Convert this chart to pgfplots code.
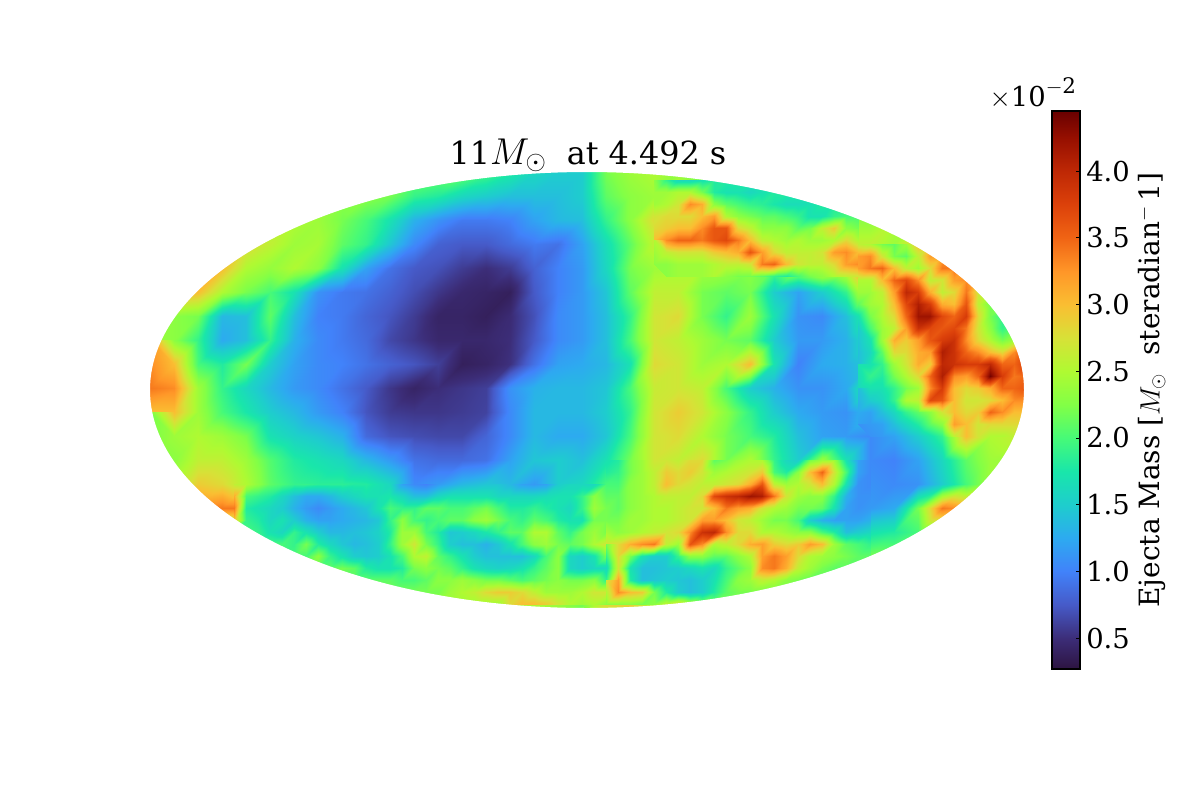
\RequirePackage{fix-cm}
\documentclass[border=0pt]{standalone}
\usepackage{fontspec}
\setmainfont{DejaVu Serif}
\usepackage{pgfplots}
\pgfplotsset{compat=1.18}
\pgfplotsset{colormap={turbomap}{
    rgb255(27pt)=(45,20,65);
    rgb255(50pt)=(60,45,120);
    rgb255(75pt)=(70,90,200);
    rgb255(100pt)=(65,130,250);
    rgb255(125pt)=(45,170,240);
    rgb255(150pt)=(30,205,205);
    rgb255(175pt)=(25,230,170);
    rgb255(200pt)=(70,250,120);
    rgb255(225pt)=(130,255,70);
    rgb255(250pt)=(175,250,50);
    rgb255(275pt)=(215,225,55);
    rgb255(300pt)=(250,190,50);
    rgb255(325pt)=(255,150,40);
    rgb255(350pt)=(240,100,20);
    rgb255(375pt)=(220,65,10);
    rgb255(400pt)=(190,40,5);
    rgb255(425pt)=(150,15,0);
    rgb255(445pt)=(105,0,0)
}}
\begin{document}
\begin{tikzpicture}
\path[use as bounding box] (0,0) rectangle (867.24pt,578.16pt);
\begin{axis}[
  at={(0,0)}, anchor=south west,
  scale only axis, width=867.24pt, height=578.16pt,
  xmin=0, xmax=1200, ymin=0, ymax=800, y dir=reverse,
  hide axis, clip=false,
  colormap name=turbomap,
  point meta min=0.268, point meta max=4.45,
]
% base grid, 24 px step
\addplot[surf, shader=interp, mesh/cols=38, point meta=\thisrowno{0}]
  table[row sep=\\, header=false,
        x expr={150+24*mod(\coordindex,38)},
        y expr={172+24*floor(\coordindex/38)}] {
2.2\\2.2\\2.2\\2.2\\2.2\\2.2\\2.2\\2.2\\2.2\\2.2\\2.2\\2.2\\2.2\\2.2\\2.0\\1.8\\1.6\\1.5\\1.5\\2.2\\2.4\\2.5\\2.3\\2.0\\2.0\\2.0\\2.0\\2.0\\2.0\\2.0\\2.0\\2.0\\2.0\\2.0\\2.0\\2.0\\2.0\\2.0\\
2.3\\2.3\\2.3\\2.3\\2.3\\2.3\\2.3\\2.3\\2.3\\2.3\\2.2\\1.9\\1.8\\1.6\\1.5\\1.4\\1.4\\1.4\\1.5\\2.1\\2.3\\2.4\\2.8\\2.7\\2.0\\1.9\\1.8\\1.8\\1.9\\1.9\\1.9\\1.9\\1.9\\1.9\\1.9\\1.9\\1.9\\1.9\\
2.5\\2.5\\2.5\\2.5\\2.5\\2.5\\2.5\\2.4\\2.2\\2.0\\1.7\\1.3\\1.1\\0.95\\0.95\\1.0\\1.2\\1.35\\1.4\\1.9\\2.3\\2.8\\3.1\\3.4\\2.9\\2.4\\2.2\\2.1\\2.2\\2.3\\2.3\\2.5\\2.5\\2.5\\2.5\\2.5\\2.5\\2.5\\
2.8\\2.8\\2.8\\2.8\\2.8\\2.6\\2.4\\2.45\\2.1\\1.9\\1.45\\1.05\\0.8\\0.75\\0.75\\0.85\\0.95\\0.9\\1.2\\1.65\\2.1\\2.6\\3.1\\3.5\\3.3\\3.5\\2.8\\2.6\\2.7\\2.6\\2.6\\2.4\\2.9\\3.0\\3.0\\3.0\\3.0\\3.0\\
3.1\\3.1\\3.1\\3.0\\2.5\\2.35\\2.5\\2.3\\1.7\\1.2\\0.9\\0.75\\0.7\\0.58\\0.5\\0.58\\0.8\\1.0\\1.15\\1.6\\2.2\\2.4\\2.45\\2.45\\2.4\\2.3\\2.1\\2.5\\2.8\\2.7\\3.7\\3.2\\2.8\\3.3\\3.3\\3.2\\3.2\\3.2\\
3.0\\3.0\\3.0\\2.5\\2.2\\2.0\\1.7\\1.1\\0.95\\0.9\\0.8\\0.68\\0.55\\0.45\\0.42\\0.38\\0.75\\1.0\\1.15\\1.45\\2.1\\2.6\\2.6\\2.2\\2.1\\2.2\\1.5\\1.2\\1.5\\1.9\\2.9\\3.1\\4.1\\3.2\\3.2\\2.5\\2.5\\2.5\\
2.4\\2.3\\2.2\\1.35\\1.4\\2.1\\1.4\\1.0\\0.95\\0.82\\0.72\\0.58\\0.42\\0.42\\0.38\\0.48\\0.7\\1.05\\1.15\\1.4\\1.9\\2.7\\2.8\\2.2\\1.9\\2.4\\1.7\\1.1\\1.05\\1.4\\2.0\\2.5\\3.7\\3.8\\3.7\\2.3\\2.1\\2.1\\
2.4\\2.3\\1.9\\1.25\\1.4\\1.9\\1.3\\1.05\\0.95\\0.85\\0.65\\0.55\\0.45\\0.45\\0.45\\0.5\\0.75\\1.05\\1.15\\1.4\\2.0\\2.7\\2.6\\2.4\\2.2\\2.1\\1.5\\1.15\\1.15\\1.3\\1.7\\2.6\\3.2\\3.6\\3.4\\2.6\\2.3\\2.3\\
3.2\\3.0\\2.0\\1.8\\2.2\\1.5\\1.2\\1.05\\1.0\\0.9\\0.8\\0.72\\0.6\\0.38\\0.42\\0.52\\0.9\\1.2\\1.25\\1.35\\1.7\\2.8\\2.7\\2.4\\2.5\\3.0\\1.7\\1.0\\1.25\\1.3\\1.5\\2.0\\2.9\\3.9\\3.5\\3.9\\3.4\\3.4\\
3.4\\3.3\\2.4\\1.9\\1.6\\1.35\\1.15\\1.05\\0.9\\0.75\\0.55\\0.42\\0.5\\0.55\\0.6\\1.1\\1.3\\1.35\\1.35\\1.45\\2.0\\2.65\\2.7\\2.6\\2.0\\1.5\\1.3\\1.1\\1.1\\1.25\\1.95\\1.7\\2.4\\3.8\\2.9\\3.0\\3.6\\3.6\\
3.0\\3.0\\2.4\\2.0\\1.75\\1.5\\1.35\\1.15\\1.0\\0.72\\0.58\\0.55\\0.55\\0.58\\0.62\\1.05\\1.35\\1.35\\1.35\\1.5\\1.9\\2.7\\2.9\\2.7\\2.3\\1.9\\1.5\\1.25\\1.15\\1.1\\1.4\\1.3\\1.7\\2.3\\2.6\\3.6\\3.0\\3.0\\
2.2\\2.4\\2.5\\2.4\\2.2\\1.7\\1.55\\1.45\\1.3\\0.85\\0.72\\0.68\\0.65\\0.65\\0.82\\1.05\\1.35\\1.25\\1.25\\1.45\\2.0\\2.7\\2.8\\2.5\\2.2\\2.0\\1.8\\1.4\\1.2\\1.15\\1.05\\1.2\\1.5\\1.9\\3.0\\2.5\\2.6\\2.6\\
2.2\\2.3\\2.6\\2.6\\2.4\\2.05\\1.8\\1.7\\1.6\\1.35\\1.15\\0.9\\0.85\\0.85\\0.9\\1.2\\1.45\\1.5\\1.4\\1.7\\2.2\\2.7\\2.6\\2.8\\2.2\\2.5\\1.9\\1.5\\2.4\\1.7\\1.05\\1.0\\1.2\\1.6\\2.1\\2.4\\2.4\\2.4\\
2.5\\2.5\\2.9\\2.8\\2.5\\2.1\\1.9\\1.85\\1.85\\1.8\\1.6\\1.05\\1.15\\1.35\\1.45\\1.35\\1.15\\1.5\\1.6\\2.0\\2.1\\2.7\\3.0\\2.7\\3.0\\3.9\\3.2\\2.3\\3.1\\1.9\\1.1\\1.05\\1.1\\1.5\\2.0\\2.4\\2.4\\2.4\\
3.3\\3.3\\3.3\\3.4\\3.4\\1.75\\1.6\\1.2\\1.3\\1.5\\1.8\\1.9\\2.0\\2.1\\2.05\\2.0\\1.9\\2.0\\2.0\\2.1\\2.3\\2.5\\2.6\\3.0\\3.6\\3.3\\2.5\\2.3\\1.5\\1.2\\1.15\\1.25\\2.2\\3.4\\3.2\\3.0\\3.0\\3.0\\
1.9\\1.9\\1.9\\1.9\\1.9\\1.7\\1.9\\1.6\\1.4\\1.5\\2.0\\2.3\\1.7\\1.5\\1.5\\1.7\\2.2\\2.2\\2.0\\2.3\\2.7\\3.0\\3.0\\3.9\\3.3\\2.7\\2.4\\2.4\\2.1\\1.8\\1.7\\1.8\\2.0\\2.2\\2.2\\2.2\\2.2\\2.2\\
2.0\\2.0\\2.0\\2.0\\2.0\\2.0\\2.0\\1.8\\1.6\\1.7\\1.9\\2.4\\2.3\\1.55\\1.35\\1.4\\1.6\\1.8\\1.7\\2.1\\2.6\\1.8\\1.5\\1.7\\2.3\\2.6\\3.3\\3.3\\2.8\\2.3\\2.2\\2.2\\2.2\\2.2\\2.2\\2.2\\2.2\\2.2\\
2.0\\2.0\\2.0\\2.0\\2.0\\2.0\\2.0\\2.0\\2.0\\2.0\\2.0\\2.0\\2.2\\2.4\\2.6\\2.7\\2.4\\2.3\\2.4\\2.6\\2.7\\1.8\\1.5\\1.9\\2.2\\2.3\\2.3\\2.2\\2.2\\2.2\\2.2\\2.2\\2.2\\2.2\\2.2\\2.2\\2.2\\2.2\\
2.3\\2.3\\2.3\\2.3\\2.3\\2.3\\2.3\\2.3\\2.3\\2.3\\2.3\\2.3\\2.3\\2.3\\2.3\\2.6\\2.5\\2.4\\2.2\\2.8\\2.9\\2.5\\2.4\\2.2\\2.2\\2.2\\2.2\\2.2\\2.2\\2.2\\2.2\\2.2\\2.2\\2.2\\2.2\\2.2\\2.2\\2.2\\
2.2\\2.2\\2.2\\2.2\\2.2\\2.2\\2.2\\2.2\\2.2\\2.2\\2.2\\2.2\\2.2\\2.2\\2.2\\2.2\\2.2\\2.2\\2.2\\2.2\\2.2\\2.2\\2.2\\2.2\\2.2\\2.2\\2.2\\2.2\\2.2\\2.2\\2.2\\2.2\\2.2\\2.2\\2.2\\2.2\\2.2\\2.2\\
};
% finer patch: top right streak, 12 px step
\addplot[surf, shader=interp, mesh/cols=18, point meta=\thisrowno{0}]
  table[row sep=\\, header=false,
        x expr={654+12*mod(\coordindex,18)},
        y expr={180+12*floor(\coordindex/18)}] {
2.3\\1.9\\1.6\\1.6\\1.7\\1.8\\1.8\\1.8\\1.8\\1.8\\1.8\\1.8\\1.8\\1.8\\1.8\\1.8\\1.8\\1.8\\
2.4\\2.4\\2.5\\2.5\\2.2\\1.8\\1.7\\1.7\\1.6\\1.7\\1.8\\1.8\\1.8\\1.8\\1.8\\1.8\\1.8\\1.8\\
2.4\\2.5\\2.7\\3.3\\3.1\\2.3\\2.1\\2.0\\1.9\\1.85\\1.75\\1.65\\1.65\\1.7\\1.8\\1.8\\1.8\\1.8\\
2.7\\2.8\\2.8\\2.8\\3.0\\3.2\\2.5\\2.3\\2.2\\2.1\\2.1\\2.0\\1.9\\1.7\\1.7\\1.9\\2.0\\2.0\\
2.8\\2.9\\3.0\\3.0\\3.3\\3.6\\3.6\\2.8\\2.6\\2.3\\2.3\\2.3\\2.1\\2.2\\2.6\\2.9\\2.3\\2.2\\
3.0\\3.3\\3.5\\3.5\\3.4\\3.6\\3.7\\3.4\\3.0\\2.6\\2.5\\2.4\\2.5\\2.4\\2.4\\2.5\\2.8\\2.5\\
2.5\\2.6\\2.7\\2.7\\2.7\\2.9\\3.0\\3.1\\3.6\\3.2\\2.8\\2.6\\2.6\\2.6\\2.7\\3.2\\3.3\\3.0\\
2.3\\2.3\\2.4\\2.4\\2.4\\2.5\\2.6\\2.6\\2.7\\3.4\\3.5\\3.0\\2.7\\2.6\\2.6\\2.8\\3.2\\3.3\\
2.3\\2.3\\2.4\\2.4\\2.4\\2.5\\2.3\\2.2\\2.2\\2.1\\1.9\\1.8\\2.0\\2.2\\2.3\\2.5\\2.6\\2.7\\
};
% finer patch: right filaments, 12 px step
\addplot[surf, shader=interp, mesh/cols=15, point meta=\thisrowno{0}]
  table[row sep=\\, header=false,
        x expr={858+12*mod(\coordindex,15)},
        y expr={244+12*floor(\coordindex/15)}] {
2.6\\2.5\\2.2\\2.1\\2.4\\3.0\\3.0\\3.0\\3.0\\3.0\\3.0\\3.0\\3.0\\3.0\\3.0\\
3.2\\3.3\\2.7\\2.2\\2.1\\2.6\\3.2\\3.2\\3.2\\3.2\\3.2\\3.2\\3.2\\3.2\\3.2\\
3.2\\3.4\\3.5\\3.0\\2.6\\2.4\\2.8\\3.4\\3.4\\3.2\\3.2\\3.2\\3.2\\3.2\\3.2\\
2.5\\2.5\\3.0\\3.5\\3.7\\3.3\\2.6\\2.7\\3.2\\3.3\\3.0\\3.0\\3.0\\3.0\\3.0\\
2.4\\2.4\\2.6\\3.2\\4.0\\3.8\\3.1\\2.6\\2.8\\3.4\\2.7\\2.5\\2.5\\2.5\\2.5\\
2.1\\2.4\\2.5\\3.0\\3.7\\4.1\\3.8\\3.1\\3.0\\3.6\\2.6\\2.2\\2.2\\2.2\\2.2\\
1.7\\2.2\\2.5\\2.8\\3.5\\4.2\\4.2\\3.7\\3.5\\3.8\\2.8\\2.2\\1.9\\2.1\\2.1\\
1.5\\2.0\\2.4\\2.6\\3.2\\3.9\\3.7\\3.6\\3.7\\3.4\\2.7\\2.3\\1.9\\2.1\\2.2\\
1.5\\1.7\\2.4\\3.1\\2.9\\3.2\\3.6\\3.8\\3.9\\3.3\\2.8\\2.5\\2.2\\2.4\\3.0\\
1.4\\1.6\\2.1\\2.8\\2.8\\3.1\\3.2\\4.1\\3.9\\3.5\\3.3\\3.0\\2.8\\3.3\\3.7\\
1.4\\1.7\\1.9\\2.4\\2.7\\3.1\\2.9\\4.0\\3.9\\3.8\\3.8\\4.0\\3.5\\3.5\\3.8\\
1.7\\1.9\\1.8\\2.2\\2.5\\2.8\\3.5\\4.1\\3.3\\3.2\\3.5\\4.4\\3.8\\3.4\\3.5\\
1.6\\1.7\\1.7\\1.9\\2.2\\2.4\\3.3\\3.8\\3.0\\2.8\\2.9\\3.1\\3.5\\3.5\\3.6\\
1.4\\1.5\\1.6\\1.9\\2.5\\2.6\\3.7\\3.6\\3.0\\2.7\\2.7\\2.8\\3.0\\3.3\\3.3\\
1.25\\1.2\\1.4\\1.6\\1.9\\2.1\\2.3\\2.7\\3.0\\2.8\\2.9\\3.5\\3.3\\3.0\\3.0\\
1.2\\1.15\\1.2\\1.4\\1.6\\1.8\\2.1\\2.3\\3.2\\3.0\\2.7\\2.8\\2.8\\2.8\\2.8\\
1.1\\1.1\\1.15\\1.2\\1.35\\1.5\\1.7\\1.9\\2.6\\3.0\\2.7\\2.5\\2.5\\2.6\\2.6\\
};
% finer patch: lower left lobes, 12 px step
\addplot[surf, shader=interp, mesh/cols=32, point meta=\thisrowno{0}]
  table[row sep=\\, header=false,
        x expr={234+12*mod(\coordindex,32)},
        y expr={484+12*floor(\coordindex/32)}] {
2.6\\2.5\\2.3\\2.1\\2.0\\1.9\\1.9\\1.85\\1.85\\1.85\\1.8\\1.8\\1.7\\1.6\\1.2\\1.05\\1.0\\1.15\\1.25\\1.35\\1.4\\1.45\\1.45\\1.35\\1.2\\1.15\\1.2\\1.5\\1.6\\1.6\\1.6\\2.0\\
3.1\\2.0\\1.9\\1.8\\1.6\\1.4\\1.25\\1.25\\1.35\\1.5\\1.6\\1.7\\1.7\\1.75\\1.6\\1.4\\1.4\\1.6\\1.7\\1.7\\1.7\\1.7\\1.6\\1.6\\1.6\\1.6\\1.65\\1.7\\1.7\\1.9\\2.3\\2.1\\
3.4\\1.8\\1.7\\1.6\\1.5\\1.3\\1.15\\1.05\\1.15\\1.25\\1.35\\1.45\\1.7\\2.0\\1.9\\1.9\\2.1\\2.1\\2.0\\2.0\\2.1\\2.2\\2.0\\1.8\\1.8\\1.9\\1.8\\1.7\\1.6\\1.9\\2.4\\2.2\\
3.0\\1.9\\1.8\\1.6\\1.7\\1.5\\1.3\\1.2\\1.2\\1.25\\1.3\\1.35\\1.45\\1.9\\2.3\\2.0\\1.9\\2.0\\2.1\\2.1\\2.3\\2.4\\2.2\\2.0\\1.9\\2.1\\2.0\\1.8\\1.7\\1.7\\2.2\\2.2\\
2.0\\2.0\\1.9\\1.7\\1.6\\1.9\\1.7\\1.5\\1.35\\1.35\\1.4\\1.45\\1.55\\1.8\\2.4\\2.4\\2.0\\1.8\\1.45\\1.5\\1.6\\1.75\\1.9\\2.1\\2.1\\2.5\\2.5\\2.1\\1.9\\2.2\\2.4\\2.2\\
2.0\\2.0\\2.0\\2.0\\2.0\\1.9\\2.2\\1.8\\1.6\\1.45\\1.35\\1.4\\1.5\\1.9\\2.4\\2.7\\2.2\\1.9\\1.5\\1.4\\1.4\\1.3\\1.45\\1.7\\2.0\\2.3\\2.4\\2.2\\2.1\\2.2\\2.5\\2.7\\
2.0\\2.0\\2.0\\2.0\\2.0\\2.0\\2.0\\2.3\\1.9\\1.7\\1.5\\1.45\\1.5\\1.7\\2.0\\2.5\\2.6\\2.1\\1.9\\1.7\\1.5\\1.4\\1.4\\1.4\\1.4\\1.6\\2.0\\2.3\\1.6\\1.5\\1.7\\2.2\\
2.1\\2.1\\2.1\\2.1\\2.1\\2.1\\2.1\\2.1\\2.1\\2.2\\2.1\\1.8\\1.7\\1.7\\1.8\\2.2\\2.3\\2.2\\2.1\\1.9\\1.7\\1.6\\1.55\\1.6\\1.7\\1.9\\2.1\\2.3\\1.6\\1.5\\1.6\\1.6\\
2.1\\2.1\\2.1\\2.1\\2.1\\2.1\\2.1\\2.1\\2.1\\2.1\\2.1\\2.1\\2.1\\2.1\\2.0\\2.0\\2.1\\2.3\\2.3\\2.4\\2.3\\2.2\\2.2\\2.1\\2.0\\2.1\\2.2\\2.3\\2.2\\2.2\\2.3\\1.9\\
2.2\\2.2\\2.2\\2.2\\2.2\\2.2\\2.2\\2.2\\2.2\\2.2\\2.2\\2.2\\2.2\\2.2\\2.2\\2.2\\2.2\\2.2\\2.4\\2.5\\2.6\\2.8\\2.9\\2.9\\2.8\\2.6\\2.4\\2.4\\2.4\\2.5\\2.7\\2.7\\
2.4\\2.4\\2.4\\2.4\\2.4\\2.4\\2.4\\2.4\\2.4\\2.4\\2.4\\2.4\\2.4\\2.4\\2.4\\2.4\\2.4\\2.4\\2.4\\2.4\\2.4\\2.4\\2.4\\2.8\\3.0\\3.0\\2.9\\2.7\\2.5\\2.4\\2.5\\2.3\\
};
% finer patch: lower right streaks, 12 px step
\addplot[surf, shader=interp, mesh/cols=23, point meta=\thisrowno{0}]
  table[row sep=\\, header=false,
        x expr={606+12*mod(\coordindex,23)},
        y expr={460+12*floor(\coordindex/23)}] {
1.7\\1.8\\2.2\\2.4\\2.7\\2.7\\2.6\\2.8\\2.8\\2.1\\2.2\\2.4\\2.5\\2.5\\1.9\\1.6\\1.5\\2.2\\2.4\\2.4\\1.7\\1.2\\1.05\\
1.8\\1.9\\2.2\\2.4\\2.6\\2.9\\2.8\\2.9\\2.7\\2.4\\2.5\\2.6\\2.7\\2.9\\2.0\\1.8\\2.3\\3.0\\3.5\\2.7\\2.0\\1.2\\1.05\\
2.0\\2.0\\2.3\\2.4\\2.6\\3.0\\2.8\\2.7\\2.6\\2.6\\2.7\\2.8\\3.1\\3.6\\2.6\\2.4\\2.5\\2.7\\3.0\\2.5\\1.7\\1.1\\1.05\\
2.1\\2.1\\2.3\\2.4\\2.5\\2.6\\2.6\\2.6\\2.8\\3.7\\3.9\\4.0\\4.2\\4.1\\3.4\\2.7\\2.4\\2.3\\2.3\\1.9\\1.3\\1.1\\1.1\\
2.2\\2.1\\2.3\\2.4\\2.5\\2.5\\2.6\\2.7\\2.7\\3.0\\3.4\\3.2\\3.1\\2.7\\2.5\\2.4\\2.2\\2.2\\2.1\\1.7\\1.2\\1.1\\1.15\\
2.2\\2.2\\2.4\\2.4\\2.5\\2.5\\2.6\\2.7\\3.2\\3.2\\3.0\\2.7\\2.6\\2.4\\2.2\\2.2\\2.0\\1.5\\1.3\\1.2\\1.2\\1.2\\1.3\\
2.2\\2.3\\2.4\\2.5\\2.6\\2.7\\2.8\\3.3\\3.9\\4.0\\3.3\\2.8\\2.8\\2.5\\2.5\\2.4\\2.3\\2.3\\2.0\\1.8\\1.4\\1.5\\1.6\\
2.7\\2.8\\3.1\\3.3\\3.4\\2.6\\2.4\\3.6\\3.3\\2.5\\2.6\\2.8\\3.1\\3.2\\2.9\\2.8\\2.9\\3.2\\3.0\\2.4\\2.1\\2.0\\1.9\\
2.2\\2.8\\2.2\\1.7\\1.5\\1.5\\1.9\\2.3\\2.3\\2.1\\2.1\\2.3\\2.5\\3.2\\3.4\\3.2\\2.8\\2.5\\2.4\\2.3\\2.2\\2.1\\2.1\\
1.6\\2.7\\1.7\\1.4\\1.4\\1.45\\1.5\\1.6\\1.7\\1.6\\1.9\\2.1\\2.3\\3.3\\3.4\\3.1\\2.6\\2.4\\2.2\\2.1\\2.1\\2.1\\2.1\\
1.9\\3.2\\1.8\\1.4\\1.45\\1.5\\1.45\\1.4\\1.5\\1.7\\2.0\\2.3\\2.4\\2.6\\2.5\\2.3\\2.2\\2.1\\2.1\\2.1\\2.1\\2.1\\2.1\\
2.7\\3.3\\3.0\\2.9\\2.2\\1.8\\1.5\\1.4\\1.5\\1.8\\2.1\\2.2\\2.2\\2.2\\2.2\\2.2\\2.2\\2.2\\2.2\\2.2\\2.2\\2.2\\2.2\\
2.3\\2.3\\2.3\\2.2\\2.3\\2.6\\2.8\\2.5\\2.3\\2.2\\2.2\\2.2\\2.2\\2.2\\2.2\\2.2\\2.2\\2.2\\2.2\\2.2\\2.2\\2.2\\2.2\\
};
\fill[white, even odd rule] (axis cs:140,165) rectangle (axis cs:1040,640)
  (axis cs:587,390) ellipse [x radius=437, y radius=218];
\node[font=\fontsize{23}{27}\selectfont, anchor=base] at (axis cs:588,164) {11{\fontsize{27}{27}\selectfont$M_{\odot}$}\ \ at 4.492 s};
\node[font=\fontsize{19.8}{24}\selectfont, anchor=base east] at (axis cs:1081,106) {$\times$10\raisebox{0.45em}{\fontsize{15.5}{16}\selectfont$-$2}};
\node[font=\fontsize{20.2}{24}\selectfont, rotate=90, anchor=center] at (axis cs:1152,390) {Ejecta Mass [$M_{\odot}$\ \ steradian$^{-}$\,1]};
\end{axis}
\begin{axis}[
  at={(760.28pt,94.67pt)}, anchor=south west,
  scale only axis, width=20.24pt, height=403.27pt,
  xmin=0, xmax=1, ymin=0.268, ymax=4.45,
  axis on top,
  colormap name=turbomap,
  point meta min=0.268, point meta max=4.45,
  xtick=\empty,
  ytick={0.5,1,1.5,2,2.5,3,3.5,4},
  ytick pos=right, yticklabel pos=right,
  tick align=inside, major tick length=3pt,
  tick style={black, line width=0.5pt},
  axis line style={black, line width=0.8pt},
  scaled y ticks=false,
  yticklabel style={font=\fontsize{19.8}{24}\selectfont, xshift=1pt,
      /pgf/number format/fixed, /pgf/number format/fixed zerofill,
      /pgf/number format/precision=1, /pgf/number format/assume math mode=true},
]
\addplot[surf, shader=interp, mesh/cols=2, point meta=y] coordinates {
  (0,0.268) (1,0.268) (0,4.45) (1,4.45)
};
\end{axis}
\end{tikzpicture}
\end{document}
